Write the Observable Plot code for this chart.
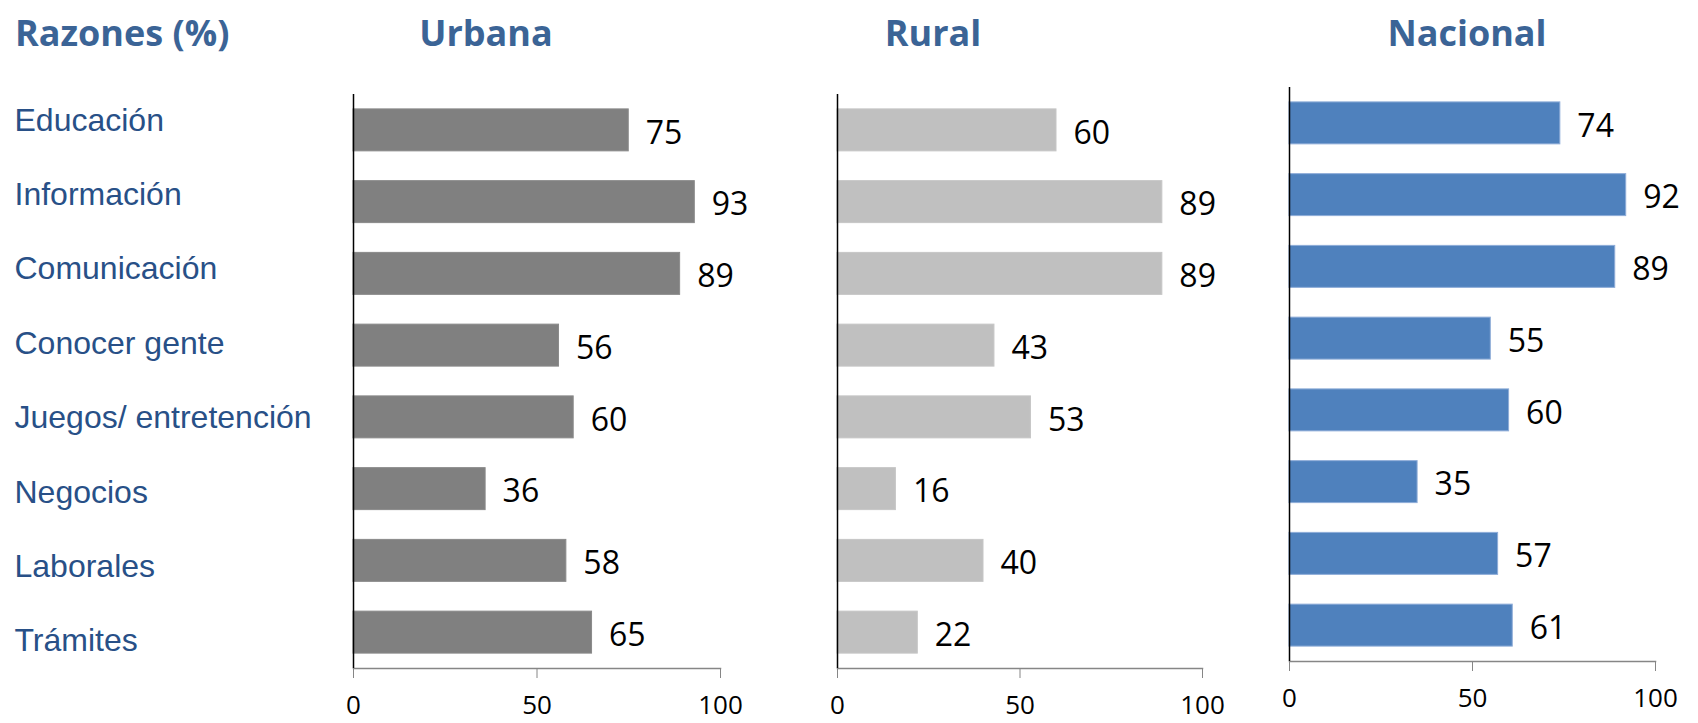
<!DOCTYPE html>
<html>
<head>
<meta charset="utf-8">
<script src="https://cdn.jsdelivr.net/npm/d3@7"></script>
<script src="https://cdn.jsdelivr.net/npm/@observablehq/plot@0.6"></script>
<style>
  html, body { margin: 0; padding: 0; background: #fff; }
  #root { position: relative; width: 1698px; height: 723px; overflow: hidden; }
  .panel { position: absolute; top: 0; }
  .title { position: absolute; font-family: "Open Sans", sans-serif; font-weight: 700; font-size: 36px; color: #3b6496; white-space: nowrap; line-height: 1; }
</style>
</head>
<body>
<div id="root"></div>
<script>
const categories = ["Educación", "Información", "Comunicación", "Conocer gente", "Juegos/ entretención", "Negocios", "Laborales", "Trámites"];
const urbana   = [75, 93, 89, 56, 60, 36, 58, 65];
const rural    = [60, 89, 89, 43, 53, 16, 40, 22];
const nacional = [74, 92, 89, 55, 60, 35, 57, 61];
const xTicks = [0, 50, 100];
const headerTitle = "Razones (%)";
const panelTitles = ["Urbana", "Rural", "Nacional"];

const root = document.getElementById("root");

function addTitle(text, left, center) {
  const d = document.createElement("div");
  d.className = "title";
  d.textContent = text;
  d.style.top = "15px";
  d.style.left = left + "px";
  if (center) d.style.transform = "translateX(-50%)";
  root.appendChild(d);
}
addTitle(headerTitle, 15, false);
addTitle(panelTitles[0], 486, true);
addTitle(panelTitles[1], 933, true);
addTitle(panelTitles[2], 1467, true);

// category labels column
const labels = Plot.plot({
  width: 340, height: 723,
  marginLeft: 14, marginRight: 0, marginTop: 0, marginBottom: 0,
  y: {type: "point", domain: categories, range: [120, 640.5], padding: 0, round: false, axis: null},
  marks: [
    Plot.text(categories, {y: d => d, text: d => d, frameAnchor: "left", textAnchor: "start",
      fontSize: 32, fill: "#285087", fontFamily: "Liberation Sans, Arial, sans-serif"})
  ]
});
labels.classList.add("panel");
labels.style.left = "0px";
root.appendChild(labels);

function panel(values, color, stroke, left, mLeft, width, mRight, top, bottom) {
  const data = categories.map((c, i) => ({cat: c, v: values[i]}));
  const p = Plot.plot({
    width, height: 723,
    marginLeft: mLeft, marginRight: mRight, marginTop: top, marginBottom: 723 - bottom,
    style: {background: "transparent", overflow: "visible"},
    x: {domain: [0, 100], axis: null},
    y: {domain: categories, type: "band", paddingInner: 0.415, paddingOuter: 0.2075, round: false, axis: null},
    marks: [
      Plot.barX(data, {x: "v", y: "cat", fill: color, stroke: stroke, strokeWidth: 1}),
      Plot.text(data, {x: "v", y: "cat", text: d => String(d.v), dx: 17, dy: 3, textAnchor: "start",
        fontSize: 32, fill: "#000", fontFamily: "Open Sans, sans-serif"}),
      Plot.axisX({ticks: xTicks, tickSize: 10, tickPadding: 17, stroke: "#868686", strokeOpacity: 1,
        fontSize: 26, fill: "#000", fontFamily: "Open Sans, sans-serif", tickFormat: d => String(d), label: null}),
      Plot.frame({anchor: "bottom", stroke: "#868686", strokeWidth: 1.5}),
      Plot.ruleX([0], {stroke: "#000", strokeWidth: 1.5})
    ]
  });
  p.classList.add("panel");
  p.style.left = left + "px";
  root.appendChild(p);
}

panel(urbana,   "#808080", "#8a8a8a", 290,  63, 500, 70, 94, 668);
panel(rural,    "#c0c0c0", "#c6c6c6", 775,  62, 497, 70, 94, 668);
panel(nacional, "#4f81bd", "#8eacd8", 1228, 61, 467, 40, 87, 661);
</script>
</body>
</html>
